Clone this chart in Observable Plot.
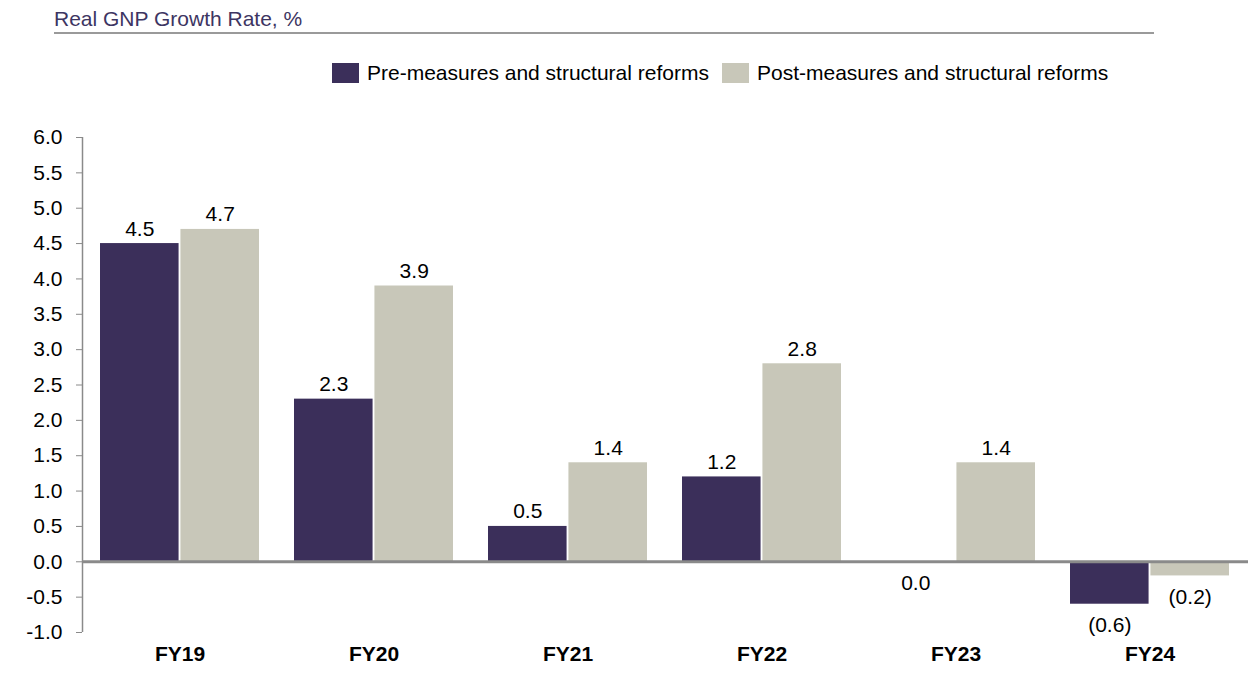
<!DOCTYPE html>
<html>
<head>
<meta charset="utf-8">
<script src="https://cdn.jsdelivr.net/npm/d3@7"></script>
<script src="https://cdn.jsdelivr.net/npm/@observablehq/plot@0.6"></script>
<style>
  html, body { margin: 0; padding: 0; background: #fff; }
  body { width: 1256px; height: 681px; position: relative; overflow: hidden;
         font-family: "Liberation Sans", Arial, sans-serif; }
  #title { position: absolute; left: 54px; top: 8px; font-size: 21px; line-height: 21px;
           color: #3d3562; white-space: nowrap; }
  #title-rule { position: absolute; left: 54px; top: 32px; width: 1100px; height: 2px; background: #9a9a9a; }
  #legend { position: absolute; left: 332px; top: 62px; display: flex; align-items: center;
            font-size: 21px; line-height: 21px; color: #000; white-space: nowrap; }
  .item { display: flex; align-items: center; margin-right: 13px; }
  .swatch { width: 27px; height: 20px; margin-right: 8px; }
  #chart { position: absolute; left: 0; top: 100px; }
</style>
</head>
<body>
<div id="title">Real GNP Growth Rate, %</div>
<div id="title-rule"></div>
<div id="legend"></div>
<div id="chart"></div>
<script>
// Fiscal years on the x axis
const years = ["FY19", "FY20", "FY21", "FY22", "FY23", "FY24"];
// Real GNP growth, % — before and after the measures and structural reforms
const preValues = [4.5, 2.3, 0.5, 1.2, 0.0, -0.6];
const postValues = [4.7, 3.9, 1.4, 2.8, 1.4, -0.2];
const seriesNames = ["Pre-measures and structural reforms", "Post-measures and structural reforms"];
const seriesColors = ["#3b2f5a", "#c8c7b9"];
// Y axis tick values
const yTicks = [-1.0, -0.5, 0.0, 0.5, 1.0, 1.5, 2.0, 2.5, 3.0, 3.5, 4.0, 4.5, 5.0, 5.5, 6.0];

const pre = years.map((year, i) => ({year, value: preValues[i]}));
const post = years.map((year, i) => ({year, value: postValues[i]}));

// Layout of the band scale so each year holds a pair of bars side by side
const width = 1256, height = 581;
const marginLeft = 82, marginRight = 8;
const padInner = 0.18, padOuter = 0.09, pairGap = 1.5;
const step = (width - marginLeft - marginRight) / (years.length - padInner + 2 * padOuter);
const bandwidth = step * (1 - padInner);
const half = bandwidth / 2 + pairGap / 2;
const centerShift = bandwidth / 4 + pairGap / 4;

const fmt = v => v < 0 ? `(${Math.abs(v).toFixed(1)})` : v.toFixed(1);
const grey = "#8a8a8a";
const above = d => d.value > 0;
const below = d => d.value <= 0;

// value labels: above positive bars, below zero and negative ones
function valueLabels(data, dx) {
  return [
    Plot.text(data, {filter: above, x: "year", y: "value", text: d => fmt(d.value),
                     dx, dy: -8, lineAnchor: "bottom", fontSize: 21, fill: "#000"}),
    Plot.text(data, {filter: below, x: "year", y: "value", text: d => fmt(d.value),
                     dx, dy: 13, lineAnchor: "top", fontSize: 21, fill: "#000"})
  ];
}

// vertical y-axis line along the left edge of the frame, spanning the tick range
function yAxisLine(index, scales, values, dimensions) {
  const x = dimensions.marginLeft + 0.5;
  return d3.create("svg:line")
    .attr("x1", x)
    .attr("x2", x)
    .attr("y1", scales.y(d3.min(yTicks)))
    .attr("y2", scales.y(d3.max(yTicks)))
    .attr("stroke", grey)
    .attr("stroke-width", 1.5)
    .node();
}

const chart = Plot.plot({
  width, height,
  marginLeft, marginRight,
  marginTop: 37, marginBottom: 49,
  style: {fontFamily: "'Liberation Sans', Arial, sans-serif", fontSize: "21px", color: "#000", background: "#fff"},
  x: {domain: years, paddingInner: padInner, paddingOuter: padOuter, axis: null, label: null},
  y: {domain: [-1, 6], axis: null, label: null},
  marks: [
    Plot.barY(pre, {x: "year", y: "value", fill: seriesColors[0], insetRight: half}),
    Plot.barY(post, {x: "year", y: "value", fill: seriesColors[1], insetLeft: half}),
    Plot.ruleY([0], {stroke: grey, strokeWidth: 3}),
    Plot.axisY({ticks: yTicks, tickFormat: d => d.toFixed(1), tickSize: 6, tickPadding: 14,
                stroke: grey, fontSize: 21, label: null}),
    yAxisLine,
    Plot.axisX({anchor: "bottom", tickSize: 0, tickPadding: 14, fontSize: 21, fontWeight: "bold", label: null}),
    ...valueLabels(pre, -centerShift),
    ...valueLabels(post, centerShift)
  ]
});
document.getElementById("chart").appendChild(chart);

// Legend
const legend = document.getElementById("legend");
seriesNames.forEach((name, i) => {
  const item = document.createElement("div");
  item.className = "item";
  const sw = document.createElement("div");
  sw.className = "swatch";
  sw.style.background = seriesColors[i];
  const label = document.createElement("span");
  label.textContent = name;
  item.appendChild(sw);
  item.appendChild(label);
  legend.appendChild(item);
});
</script>
</body>
</html>
